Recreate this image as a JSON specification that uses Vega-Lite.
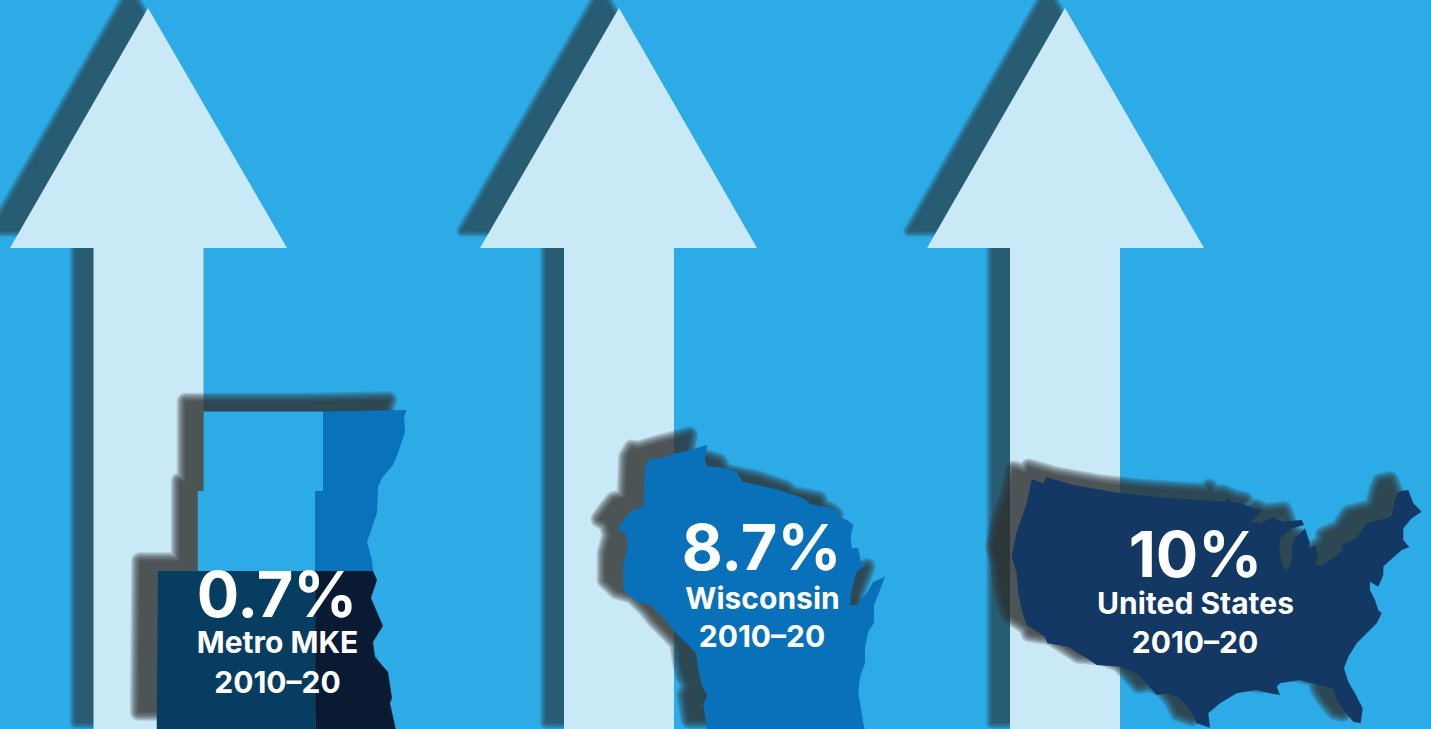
{"$schema":"https://vega.github.io/schema/vega-lite/v6.json","width":1431,"height":729,"padding":0,"autosize":"none","background":"#2DABE6","config":{"view":{"stroke":null}},
"datasets":{"shapes":[
{"type":"Feature","properties":{"name":"arrow1","layer":"arrow"},"geometry":{"type":"Polygon","coordinates":[[[148,8],[287,248],[203.5,248],[203.5,740],[93.5,740],[93.5,248],[10,248],[148,8]]]}},
{"type":"Feature","properties":{"name":"arrow2","layer":"arrow"},"geometry":{"type":"Polygon","coordinates":[[[619,8],[757,248],[674,248],[674,740],[564,740],[564,248],[480,248],[619,8]]]}},
{"type":"Feature","properties":{"name":"arrow3","layer":"arrow"},"geometry":{"type":"Polygon","coordinates":[[[1065,8],[1204,248],[1120,248],[1120,740],[1010,740],[1010,248],[927,248],[1065,8]]]}},
{"type":"Feature","properties":{"name":"metroOutline","layer":"shadow"},"geometry":{"type":"Polygon","coordinates":[[[203.5,411.5],[323,411.5],[406.5,410],[404,417],[405,432],[398,453],[393,465],[382,478],[378,487],[377,513],[367,542],[372,560],[373,571],[377,580],[371,598],[383,626],[373,642],[375,657],[388,672],[392,698],[390,703],[396,722],[156.7,722],[158,571],[197.7,571],[197.7,491],[203.5,491],[203.5,411.5]]]}},
{"type":"Feature","properties":{"name":"metroNW","layer":"top"},"geometry":{"type":"Polygon","coordinates":[[[203.5,411.5],[323,411.5],[323,491],[315.5,491],[315.5,571],[197.7,571],[197.7,491],[203.5,491],[203.5,411.5]]]}},
{"type":"Feature","properties":{"name":"metroNE","layer":"top"},"geometry":{"type":"Polygon","coordinates":[[[323,411.5],[406.5,410],[404,417],[405,432],[398,453],[393,465],[382,478],[378,487],[377,513],[367,542],[372,560],[373,571],[315.5,571],[315.5,491],[323,491],[323,411.5]]]}},
{"type":"Feature","properties":{"name":"metroSW","layer":"top"},"geometry":{"type":"Polygon","coordinates":[[[158,571],[315.5,571],[315.5,730],[156.7,730],[158,571]]]}},
{"type":"Feature","properties":{"name":"metroSE","layer":"top"},"geometry":{"type":"Polygon","coordinates":[[[315.5,571],[373,571],[377,580],[371,598],[383,626],[373,642],[375,657],[388,672],[392,698],[390,703],[396,730],[315.5,730],[315.5,571]]]}},
{"type":"Feature","properties":{"name":"wisconsin","layer":"both"},"geometry":{"type":"Polygon","coordinates":[[[707.3,445],[704.7,458.3],[706.7,466],[723.3,467.7],[736.7,471.7],[742.7,481.7],[776.7,489.3],[803.3,498.3],[810,504],[836.7,509.3],[840,517.3],[848.3,520.7],[853.3,525],[850.7,536.7],[851.7,548.3],[858.3,548.3],[860.7,561.7],[865.7,565],[856.7,571.7],[851.7,590],[850,605],[856.7,605],[866.7,593.3],[873.3,581.7],[885,576.7],[880,590],[874,605],[874,622.7],[868.3,631.7],[865,646.7],[865,663.3],[860,676.7],[858.3,693.3],[860.7,706.7],[863.3,723.3],[865,730],[707.3,730],[703.3,705],[707.3,695],[701.7,685],[698.3,670],[696,653.3],[686.7,643.3],[673.3,630],[664,618.3],[650,605],[635,600.7],[623.3,590],[623.3,563.3],[628.3,545],[625,533.3],[617.3,529],[625,518.3],[631.7,510],[643.3,507.3],[645,466.7],[650,458.3],[656.7,459.3],[676.7,453.3],[690,450],[707.3,445]]]}},
{"type":"Feature","properties":{"name":"usa","layer":"both"},"geometry":{"type":"Polygon","coordinates":[[[1031.7,479.3],[1043.3,483.3],[1046.7,477.3],[1073.3,485],[1120,493.3],[1156.7,497.3],[1196.7,500],[1226,501.7],[1227.3,497.3],[1230.7,502.3],[1241.7,503.3],[1253.3,508.3],[1262.7,510],[1250,521.7],[1260,523.3],[1273.3,517.3],[1283.3,521.7],[1301.7,520],[1304,525],[1291.7,528.3],[1280,538.3],[1279.3,553.3],[1283.3,568.3],[1288.3,570],[1291.7,560],[1291.7,546.7],[1295,538.3],[1305,528.3],[1310,543.3],[1308.3,548.3],[1315,545],[1318.3,556.7],[1315,565],[1320,566],[1333.3,558.3],[1342.7,550],[1341.7,545],[1356.7,538.3],[1366.7,523.3],[1386.7,518.3],[1391.7,515],[1395,500],[1398.3,491.7],[1408.3,490],[1413.3,503.3],[1421.7,511.7],[1411.7,518.3],[1403.3,528.3],[1403.3,540],[1409.3,547.3],[1401.7,550],[1386.7,563.3],[1383.3,566.7],[1383.3,575],[1378.3,586.7],[1370,581.7],[1370,590],[1375,600],[1378.3,610],[1381.7,613.3],[1376.7,623.3],[1366.7,633.3],[1356.7,643.3],[1348.3,656.7],[1344,668.3],[1348.3,681.7],[1355,693.3],[1362.7,708.3],[1360.7,723.3],[1353.3,721.7],[1343.3,710],[1336.7,700],[1333.3,688.3],[1311.7,683.3],[1300,680],[1280,683.3],[1276.7,686.7],[1280,695],[1270,693.3],[1256.7,690],[1236.7,693.3],[1220,703.3],[1208.3,713.3],[1210,727.7],[1196.7,723.3],[1190,710],[1180,698.3],[1166.7,693.3],[1156.7,695],[1146.7,683.3],[1136.7,673.3],[1120,666.7],[1096.7,665],[1086.7,658.3],[1068.3,646.7],[1047.3,643.3],[1045,636.7],[1026.7,625],[1021.7,610],[1018.3,593.3],[1016.7,573.3],[1011.7,556.7],[1016.7,531.7],[1026.7,503.3],[1031.7,479.3]]]}}
],
"labels":[
{"text":"0.7%","kind":"big","cx":277,"base":616.5},
{"text":"Metro MKE","kind":"small","cx":277.5,"base":653},
{"text":"2010–20","kind":"small","cx":277.5,"base":693},
{"text":"8.7%","kind":"big","cx":761.5,"base":570},
{"text":"Wisconsin","kind":"small","cx":762.5,"base":609},
{"text":"2010–20","kind":"small","cx":762,"base":647},
{"text":"10%","kind":"big","cx":1195.5,"base":576.5},
{"text":"United States","kind":"small","cx":1195.5,"base":614},
{"text":"2010–20","kind":"small","cx":1195,"base":653}
]},
"layer":[
{"data":{"name":"shapes"},"transform":[{"filter":"datum.properties.layer==='arrow'"}],"projection":{"type":"identity","scale":1,"translate":[-18,-17],"tilt":1},"mark":{"type":"geoshape","fill":"#282828","stroke":"#282828","strokeWidth":0,"opacity":0.1,"strokeJoin":"round"}},
{"data":{"name":"shapes"},"transform":[{"filter":"datum.properties.layer==='arrow'"}],"projection":{"type":"identity","scale":1,"translate":[-18,-17]},"mark":{"type":"geoshape","fill":"#282828","stroke":"#282828","strokeWidth":1.7,"opacity":0.1,"strokeJoin":"round"}},
{"data":{"name":"shapes"},"transform":[{"filter":"datum.properties.layer==='arrow'"}],"projection":{"type":"identity","scale":1,"translate":[-18,-17]},"mark":{"type":"geoshape","fill":"#282828","stroke":"#282828","strokeWidth":3.4,"opacity":0.1,"strokeJoin":"round"}},
{"data":{"name":"shapes"},"transform":[{"filter":"datum.properties.layer==='arrow'"}],"projection":{"type":"identity","scale":1,"translate":[-18,-17]},"mark":{"type":"geoshape","fill":"#282828","stroke":"#282828","strokeWidth":5.1,"opacity":0.1,"strokeJoin":"round"}},
{"data":{"name":"shapes"},"transform":[{"filter":"datum.properties.layer==='arrow'"}],"projection":{"type":"identity","scale":1,"translate":[-18,-17]},"mark":{"type":"geoshape","fill":"#282828","stroke":"#282828","strokeWidth":6.8,"opacity":0.1,"strokeJoin":"round"}},
{"data":{"name":"shapes"},"transform":[{"filter":"datum.properties.layer==='arrow'"}],"projection":{"type":"identity","scale":1,"translate":[-18,-17]},"mark":{"type":"geoshape","fill":"#282828","stroke":"#282828","strokeWidth":8.5,"opacity":0.1,"strokeJoin":"round"}},
{"data":{"name":"shapes"},"transform":[{"filter":"datum.properties.layer==='arrow'"}],"projection":{"type":"identity","scale":1,"translate":[-18,-17]},"mark":{"type":"geoshape","fill":"#282828","stroke":"#282828","strokeWidth":10.2,"opacity":0.1,"strokeJoin":"round"}},
{"data":{"name":"shapes"},"transform":[{"filter":"datum.properties.layer==='arrow'"}],"projection":{"type":"identity","scale":1,"translate":[-18,-17]},"mark":{"type":"geoshape","fill":"#282828","stroke":"#282828","strokeWidth":12,"opacity":0.1,"strokeJoin":"round"}},
{"data":{"name":"shapes"},"transform":[{"filter":"datum.properties.layer==='arrow'"}],"projection":{"type":"identity","scale":1,"translate":[0,0]},"mark":{"type":"geoshape","fill":"#C9E9F7","strokeWidth":0}},
{"data":{"name":"shapes"},"transform":[{"filter":"datum.properties.layer==='shadow'||datum.properties.layer==='both'"}],"projection":{"type":"identity","scale":1,"translate":[-18,-10]},"mark":{"type":"geoshape","fill":"#313131","stroke":"#313131","strokeWidth":0,"opacity":0.182,"strokeJoin":"round"}},
{"data":{"name":"shapes"},"transform":[{"filter":"datum.properties.layer==='shadow'||datum.properties.layer==='both'"}],"projection":{"type":"identity","scale":1,"translate":[-18,-10]},"mark":{"type":"geoshape","fill":"#313131","stroke":"#313131","strokeWidth":2.5,"opacity":0.182,"strokeJoin":"round"}},
{"data":{"name":"shapes"},"transform":[{"filter":"datum.properties.layer==='shadow'||datum.properties.layer==='both'"}],"projection":{"type":"identity","scale":1,"translate":[-18,-10]},"mark":{"type":"geoshape","fill":"#313131","stroke":"#313131","strokeWidth":5,"opacity":0.182,"strokeJoin":"round"}},
{"data":{"name":"shapes"},"transform":[{"filter":"datum.properties.layer==='shadow'||datum.properties.layer==='both'"}],"projection":{"type":"identity","scale":1,"translate":[-18,-10]},"mark":{"type":"geoshape","fill":"#313131","stroke":"#313131","strokeWidth":7.5,"opacity":0.182,"strokeJoin":"round"}},
{"data":{"name":"shapes"},"transform":[{"filter":"datum.properties.layer==='shadow'||datum.properties.layer==='both'"}],"projection":{"type":"identity","scale":1,"translate":[-18,-10]},"mark":{"type":"geoshape","fill":"#313131","stroke":"#313131","strokeWidth":10,"opacity":0.182,"strokeJoin":"round"}},
{"data":{"name":"shapes"},"transform":[{"filter":"datum.properties.layer==='shadow'||datum.properties.layer==='both'"}],"projection":{"type":"identity","scale":1,"translate":[-18,-10]},"mark":{"type":"geoshape","fill":"#313131","stroke":"#313131","strokeWidth":12.5,"opacity":0.182,"strokeJoin":"round"}},
{"data":{"name":"shapes"},"transform":[{"filter":"datum.properties.layer==='shadow'||datum.properties.layer==='both'"}],"projection":{"type":"identity","scale":1,"translate":[-18,-10]},"mark":{"type":"geoshape","fill":"#313131","stroke":"#313131","strokeWidth":15,"opacity":0.182,"strokeJoin":"round"}},
{"data":{"name":"shapes"},"transform":[{"filter":"datum.properties.layer==='shadow'||datum.properties.layer==='both'"}],"projection":{"type":"identity","scale":1,"translate":[-18,-10]},"mark":{"type":"geoshape","fill":"#313131","stroke":"#313131","strokeWidth":17.5,"opacity":0.182,"strokeJoin":"round"}},
{"data":{"name":"shapes"},"transform":[{"filter":"datum.properties.layer==='top'||datum.properties.layer==='both'"}],"projection":{"type":"identity","scale":1,"translate":[0,0]},"mark":{"type":"geoshape","strokeWidth":0},"encoding":{"fill":{"field":"properties.name","type":"nominal","legend":null,"scale":{"domain":["metroNW","metroNE","metroSW","metroSE","wisconsin","usa"],"range":["#2DABE6","#0872BA","#083D62","#0A1A33","#0871BA","#123863"]}}}},
{"data":{"name":"labels"},"transform":[{"filter":"datum.kind==='big'"}],"mark":{"type":"text","font":"Inter","fontWeight":700,"fontSize":63,"align":"center","baseline":"alphabetic","fill":"#FFFFFF"},"encoding":{"x":{"field":"cx","type":"quantitative","axis":null,"scale":{"domain":[0,1431],"nice":false}},"y":{"field":"base","type":"quantitative","axis":null,"scale":{"domain":[0,729],"reverse":true,"nice":false}},"text":{"field":"text"}}},
{"data":{"name":"labels"},"transform":[{"filter":"datum.kind==='small'"}],"mark":{"type":"text","font":"Inter","fontWeight":700,"fontSize":30,"align":"center","baseline":"alphabetic","fill":"#FFFFFF"},"encoding":{"x":{"field":"cx","type":"quantitative","axis":null,"scale":{"domain":[0,1431],"nice":false}},"y":{"field":"base","type":"quantitative","axis":null,"scale":{"domain":[0,729],"reverse":true,"nice":false}},"text":{"field":"text"}}}
]}
